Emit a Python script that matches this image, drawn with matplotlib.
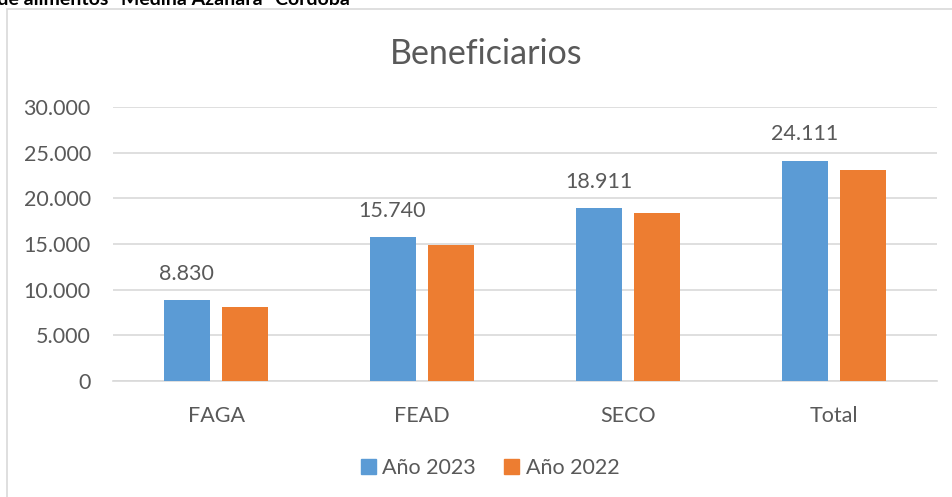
import matplotlib
matplotlib.use("Agg")
from matplotlib import pyplot as plt
from matplotlib.patches import Rectangle, Patch
import numpy as np

plt.rcParams['font.family'] = ['Lato', 'DejaVu Sans']

categories = ['FAGA', 'FEAD', 'SECO', 'Total']
anio_2023 = [8830, 15740, 18911, 24111]
anio_2022 = [8150, 14900, 18370, 23100]
y_ticks = [0, 5000, 10000, 15000, 20000, 25000, 30000]

blue = '#5B9BD5'
orange = '#ED7D31'
txt = '#595959'
grid = '#D9D9D9'

def fmt(v):
    return f'{v:,}'.replace(',', '.')

fig = plt.figure(figsize=(9.52, 4.97), dpi=100)

# outer chart frame (cut off at right / bottom like the screenshot)
fig.patches.append(Rectangle((7 / 952, -0.05), 1.1, 1 - 9 / 497 + 0.05,
                             transform=fig.transFigure, fill=False,
                             edgecolor=grid, linewidth=1.2))

# caption clipped at the top of the picture
fig.text(350 / 952, 1 - 5 / 497, 'Banco de alimentos "Medina Azahara" Córdoba',
         ha='right', va='baseline', fontsize=14, fontweight='bold', color='black')

ax = fig.add_axes([113 / 952, 1 - 381 / 497, 824 / 952, 274 / 497])
x = np.arange(len(categories))
w = 0.223
off = 0.143
b1 = ax.bar(x - off, anio_2023, w, color=blue, zorder=3)
b2 = ax.bar(x + off, anio_2022, w, color=orange, zorder=3)
ax.bar_label(b1, labels=[fmt(v) for v in anio_2023], padding=12,
             fontsize=15.5, color=txt)

ax.set_xlim(-0.5, len(categories) - 0.5)
ax.set_ylim(0, 30000)
ax.set_yticks(y_ticks)
ax.set_yticklabels([fmt(v) for v in y_ticks])
ax.set_xticks(x)
ax.set_xticklabels(categories)
ax.tick_params(axis='both', length=0, labelsize=15.5, labelcolor=txt)
ax.tick_params(axis='y', pad=16)
ax.tick_params(axis='x', pad=18)
ax.yaxis.grid(True, color=grid, linewidth=1.2, zorder=0)
for s in ['top', 'right', 'left']:
    ax.spines[s].set_visible(False)
ax.spines['bottom'].set_color(grid)
ax.spines['bottom'].set_linewidth(1.2)

# title is centred on the whole chart box, not on the plot area
ax.set_title('Beneficiarios', fontsize=24.5, color=txt, pad=31,
             x=(486 - 113) / 824)

handles = [Patch(color=blue), Patch(color=orange)]
fig.legend(handles, ['Año 2023', 'Año 2022'], loc='center',
           bbox_to_anchor=(490 / 952, 1 - 468 / 497), ncol=2, frameon=False,
           fontsize=15.5, labelcolor=txt, handlelength=0.7, handleheight=0.7,
           handletextpad=0.3, columnspacing=1.3)

fig.savefig('out.png', dpi=100)
